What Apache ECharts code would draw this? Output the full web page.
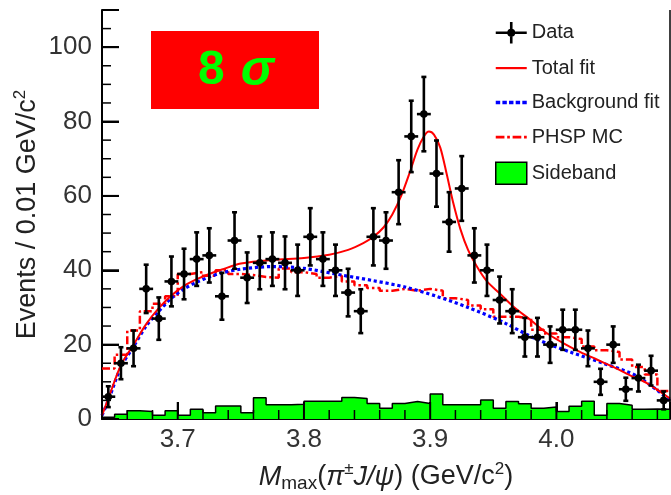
<!DOCTYPE html>
<html>
<head>
<meta charset="utf-8">
<script src="https://cdn.jsdelivr.net/npm/echarts@6/dist/echarts.min.js"></script>
<style>
  html, body { margin: 0; padding: 0; background: #fff; }
  #main { width: 671px; height: 495px; }
</style>
</head>
<body>
<div id="main"></div>
<script>
// bin centres, 0.01 GeV/c^2 bins
var binCenters = [3.645, 3.655, 3.665, 3.675, 3.685, 3.695, 3.705, 3.715, 3.725, 3.735,
                  3.745, 3.755, 3.765, 3.775, 3.785, 3.795, 3.805, 3.815, 3.825, 3.835,
                  3.845, 3.855, 3.865, 3.875, 3.885, 3.895, 3.905, 3.915, 3.925, 3.935,
                  3.945, 3.955, 3.965, 3.975, 3.985, 3.995, 4.005, 4.015, 4.025, 4.035,
                  4.045, 4.055, 4.065, 4.075, 4.085];
var dataCounts = [6, 15, 19, 35, 27, 37, 39, 43, 44, 33,
                  48, 38, 42, 43, 42, 40, 49, 43, 40, 34,
                  29, 49, 48, 61, 76, 82, 66, 53, 62, 44,
                  40, 32, 29, 22, 22, 20, 24, 24, 19, 10,
                  20, 8, 11, 13, 5];
var dataErrors = [2.8, 4.3, 4.8, 6.5, 5.7, 6.7, 6.8, 7.2, 7.3, 6.3,
                  7.6, 6.8, 7.1, 7.2, 7.1, 6.9, 7.7, 7.2, 6.9, 6.4,
                  5.9, 7.7, 7.6, 8.6, 9.6, 10, 8.9, 8, 8.7, 7.3,
                  6.9, 6.3, 5.9, 5.2, 5.2, 4.9, 5.4, 5.4, 4.8, 3.5,
                  4.9, 3.1, 3.6, 4, 2.4];
var phspValues = [13.6, 17.3, 23.8, 29, 31, 33, 39, 39.5, 38.5, 40,
                  39, 38.7, 38.2, 38, 40.5, 39.5, 39, 38, 38.5, 37,
                  36, 35.2, 34.5, 35, 34.5, 35, 34.5, 32.5, 32, 30.5,
                  29.5, 27.5, 27.5, 27, 24, 23, 22, 21.5, 19.5, 18.5,
                  18, 16, 14, 12, 7.5];
var sidebandValues = [0.5, 1.3, 2.2, 2, 1, 2.2, 1, 2.6, 1.7, 3.5,
                      3.5, 1.7, 5.7, 3.8, 3.8, 4, 4.8, 4.8, 4.8, 5.8,
                      5.5, 4.2, 2.9, 4.2, 4.7, 4.2, 6.7, 3.8, 3.8, 3.8,
                      5.1, 2.9, 4.7, 4.1, 2.9, 3.2, 2, 3.4, 4.8, 1,
                      4.2, 3.7, 2.6, 2.7, 2.6];
var totalFitX = [3.64, 3.645, 3.655, 3.665, 3.675, 3.685, 3.695, 3.705, 3.715, 3.725,
                 3.735, 3.75, 3.775, 3.80, 3.82, 3.835, 3.847, 3.855, 3.863, 3.87,
                 3.877, 3.884, 3.89, 3.895, 3.899, 3.903, 3.908, 3.913, 3.918, 3.924,
                 3.93, 3.937, 3.945, 3.955, 3.966, 3.98, 3.992, 4.005, 4.019, 4.032,
                 4.045, 4.058, 4.072, 4.09];
var totalFitY = [1, 5.5, 14.5, 20, 25.5, 29.8, 33.2, 35.8, 37.6, 39,
                 40.2, 41.8, 42.8, 43.3, 44.2, 45.5, 47.3, 49, 51.5, 55,
                 60, 66.5, 72.5, 76, 77.3, 76.5, 73, 66, 58.5, 51,
                 45.5, 41, 37, 33.8, 30.2, 26.5, 23.2, 20.5, 18, 16,
                 14, 11.8, 9.6, 5.5];
var bkgFitX = [3.64, 3.645, 3.655, 3.665, 3.675, 3.685, 3.695, 3.705, 3.715, 3.725,
               3.735, 3.75, 3.775, 3.80, 3.83, 3.855, 3.88, 3.905, 3.93, 3.958,
               3.984, 4.011, 4.037, 4.064, 4.09];
var bkgFitY = [1, 5, 14, 19.5, 25, 29, 32.5, 35, 36.8, 38.2,
               39.3, 40.3, 41, 40.5, 38.7, 37.2, 35.5, 33, 30, 26,
               21.5, 18, 15, 11.5, 5];

// tick positions and labels
var xTickLabels = [3.7, 3.8, 3.9, 4.0];
var xMinorTicks = [3.64, 3.66, 3.68, 3.72, 3.74, 3.76, 3.78, 3.82, 3.84, 3.86, 3.88,
                   3.92, 3.94, 3.96, 3.98, 4.02, 4.04, 4.06, 4.08];
var yTickLabels = [0, 20, 40, 60, 80, 100];
var yMinorTicks = [5, 10, 15, 25, 30, 35, 45, 50, 55, 65, 70, 75, 85, 90, 95, 105];

var xMin = 3.64, xMax = 4.09, yMin = 0, yMax = 110;
var binHalf = 0.005;
var font = 'Liberation Sans, Arial, sans-serif';

function zip(xs, ys) {
  return xs.map(function (x, i) { return [x, ys[i]]; });
}
// histogram outline: each bin flat from its low edge to its high edge
function histPoints(values) {
  var pts = [];
  binCenters.forEach(function (c, i) {
    pts.push([c - binHalf, values[i]]);
    pts.push([c + binHalf, values[i]]);
  });
  return pts;
}

var myChart = echarts.init(document.getElementById('main'));

var option = {
  animation: false,
  textStyle: { fontFamily: font },
  grid: { left: 102, right: 1, top: 10, bottom: 76, outerBoundsMode: 'none' },
  legend: {
    orient: 'vertical',
    left: 495,
    top: 22,
    padding: 0,
    itemWidth: 31,
    itemHeight: 22,
    itemGap: 14.5,
    textStyle: { fontSize: 20, color: '#222', fontFamily: font },
    data: [
      { name: 'Data', icon: 'path://M0,9.5h31v2.6h-31z M14.2,0h2.6v21.6h-2.6z M15.5,6.8a4,4 0 1,1 -0.01,0z',
        itemStyle: { color: '#000', borderWidth: 0 } },
      { name: 'Total fit', icon: 'path://M0,0h31v2.2h-31z',
        itemStyle: { color: '#ff0000', borderWidth: 0 } },
      { name: 'Background fit', icon: 'path://M0,0h4v3.2h-4z M6,0h4v3.2h-4z M12,0h4v3.2h-4z M18,0h4v3.2h-4z M24,0h4v3.2h-4z',
        itemStyle: { color: '#0000ff', borderWidth: 0 } },
      { name: 'PHSP MC', icon: 'path://M0,0h8v2.6h-8z M10.5,0h2.5v2.6h-2.5z M15.5,0h8v2.6h-8z M26,0h2.5v2.6h-2.5z',
        itemStyle: { color: '#ff0000', borderWidth: 0 } },
      { name: 'Sideband', icon: 'rect',
        itemStyle: { color: '#00ff00', borderColor: '#000', borderWidth: 1.5 } }
    ]
  },
  xAxis: {
    type: 'value',
    min: xMin,
    max: xMax,
    name: '{i|M}{s|max}{n|(}{i|π}{p|±}{i|J/ψ}{n|) (GeV/c}{p|2}{n|)}',
    nameLocation: 'middle',
    nameGap: 42,
    nameMoveOverlap: false,
    nameTextStyle: {
      fontSize: 27, color: '#222',
      rich: {
        n: { fontSize: 27, color: '#222', lineHeight: 32, fontFamily: font },
        i: { fontSize: 27, color: '#222', lineHeight: 32, fontStyle: 'italic', fontFamily: font },
        s: { fontSize: 19, color: '#222', lineHeight: 32, verticalAlign: 'bottom', fontFamily: font },
        p: { fontSize: 17, color: '#222', lineHeight: 32, verticalAlign: 'top', fontFamily: font }
      }
    },
    axisLine: { show: true, onZero: false, lineStyle: { color: '#000', width: 2 } },
    axisTick: { show: true, inside: true, length: 17, lineStyle: { color: '#000', width: 2 } },
    axisLabel: { customValues: xTickLabels, fontSize: 26, color: '#333', margin: 8,
                 formatter: function (v) { return v.toFixed(1); } },
    splitLine: { show: false }
  },
  yAxis: {
    type: 'value',
    min: yMin,
    max: yMax,
    interval: 20,
    name: '{n|Events / 0.01 GeV/c}{p|2}',
    nameLocation: 'middle',
    nameRotate: 90,
    nameGap: 58,
    nameMoveOverlap: false,
    nameTextStyle: {
      fontSize: 27, color: '#222',
      rich: {
        n: { fontSize: 27, color: '#222', lineHeight: 32, fontFamily: font },
        p: { fontSize: 17, color: '#222', lineHeight: 32, verticalAlign: 'top', fontFamily: font }
      }
    },
    axisLine: { show: true, onZero: false, lineStyle: { color: '#000', width: 2 } },
    axisTick: { show: true, inside: true, length: 17, lineStyle: { color: '#000', width: 2 } },
    axisLabel: { fontSize: 26, color: '#333', margin: 10,
                 formatter: function (v) { return v > 100 ? '' : String(v); } },
    splitLine: { show: false }
  },
  graphic: [
    { type: 'rect', left: 151, top: 31, shape: { width: 168, height: 78 }, style: { fill: '#ff0000' }, z: 10 },
    { type: 'text', x: 236, y: 71, z: 11,
      style: {
        text: '{a|8}{b|σ}',
        align: 'center', verticalAlign: 'middle',
        rich: {
          a: { fontSize: 48, fontWeight: 'bold', fill: '#00ff00', fontFamily: font, padding: [0, 16, 0, 0] },
          b: { fontSize: 50, fontWeight: 'bold', fontStyle: 'italic', fill: '#00ff00', fontFamily: font }
        }
      }
    }
  ],
  series: [
    {
      name: 'Sideband',
      type: 'line',
      z: 1,
      symbol: 'none',
      color: '#00ff00',
      data: histPoints(sidebandValues),
      lineStyle: { color: '#000', width: 1.5 },
      areaStyle: { color: '#00ff00', opacity: 1 }
    },
    {
      name: 'PHSP MC',
      type: 'line',
      z: 2,
      symbol: 'none',
      color: '#ff0000',
      data: histPoints(phspValues),
      lineStyle: { color: '#ff0000', width: 2.5, type: [8, 3, 2.5, 3] }
    },
    {
      name: 'Background fit',
      type: 'line',
      z: 3,
      symbol: 'none',
      smooth: 0.3,
      color: '#0000ff',
      data: zip(bkgFitX, bkgFitY),
      lineStyle: { color: '#0000ff', width: 3.2, type: [3.2, 2.8] }
    },
    {
      name: 'Total fit',
      type: 'line',
      z: 4,
      symbol: 'none',
      smooth: 0.3,
      color: '#ff0000',
      data: zip(totalFitX, totalFitY),
      lineStyle: { color: '#ff0000', width: 2 }
    },
    {
      name: 'Data',
      type: 'custom',
      z: 5,
      color: '#000',
      data: binCenters.map(function (x, i) { return [x, dataCounts[i], dataErrors[i]]; }),
      encode: { x: 0, y: 1 },
      renderItem: function (params, api) {
        var x = api.value(0), y = api.value(1), e = api.value(2);
        var c = api.coord([x, y]);
        var hi = api.coord([x, y + e]);
        var lo = api.coord([x, y - e]);
        var l = api.coord([x - 0.0055, y]);
        var r = api.coord([x + 0.0055, y]);
        var st = { stroke: '#000', lineWidth: 2.6 };
        return {
          type: 'group',
          children: [
            { type: 'line', shape: { x1: c[0], y1: hi[1], x2: c[0], y2: lo[1] }, style: st },
            { type: 'line', shape: { x1: l[0], y1: c[1], x2: r[0], y2: c[1] }, style: st },
            { type: 'line', shape: { x1: c[0] - 2.5, y1: hi[1], x2: c[0] + 2.5, y2: hi[1] }, style: st },
            { type: 'line', shape: { x1: c[0] - 2.5, y1: lo[1], x2: c[0] + 2.5, y2: lo[1] }, style: st },
            { type: 'circle', shape: { cx: c[0], cy: c[1], r: 3.8 }, style: { fill: '#000' } }
          ]
        };
      }
    }
  ]
};
myChart.setOption(option);

// inward ticks and the right frame line, placed through the chart's own scales
// and added straight to the renderer so they sit above the histogram
try {
  var zr = myChart.getZr();
  var toPx = function (pt) { return myChart.convertToPixel({ xAxisIndex: 0, yAxisIndex: 0 }, pt); };
  var addLine = function (a, b, w) {
    zr.add(new echarts.graphic.Line({
      z: 100,
      silent: true,
      shape: { x1: a[0], y1: a[1], x2: b[0], y2: b[1] },
      style: { stroke: '#000', lineWidth: w }
    }));
  };
  var xTick = function (v, len, w) {
    var p = toPx([v, yMin]);
    addLine(p, [p[0], p[1] - len], w);
  };
  var yTick = function (v, len, w) {
    var p = toPx([xMin, v]);
    addLine(p, [p[0] + len, p[1]], w);
  };
  xTickLabels.forEach(function (v) { xTick(v, 17, 2); });
  xMinorTicks.forEach(function (v) { xTick(v, 9, 1.5); });
  yTickLabels.forEach(function (v) { yTick(v, 17, 2); });
  yMinorTicks.forEach(function (v) { yTick(v, 9, 1.5); });
  addLine(toPx([xMax, yMin]), toPx([xMax, yMax]), 1.5);
} catch (e) {
  console.error(e);
}

window.addEventListener('resize', function () {
  myChart.resize();
});
</script>
</body>
</html>
